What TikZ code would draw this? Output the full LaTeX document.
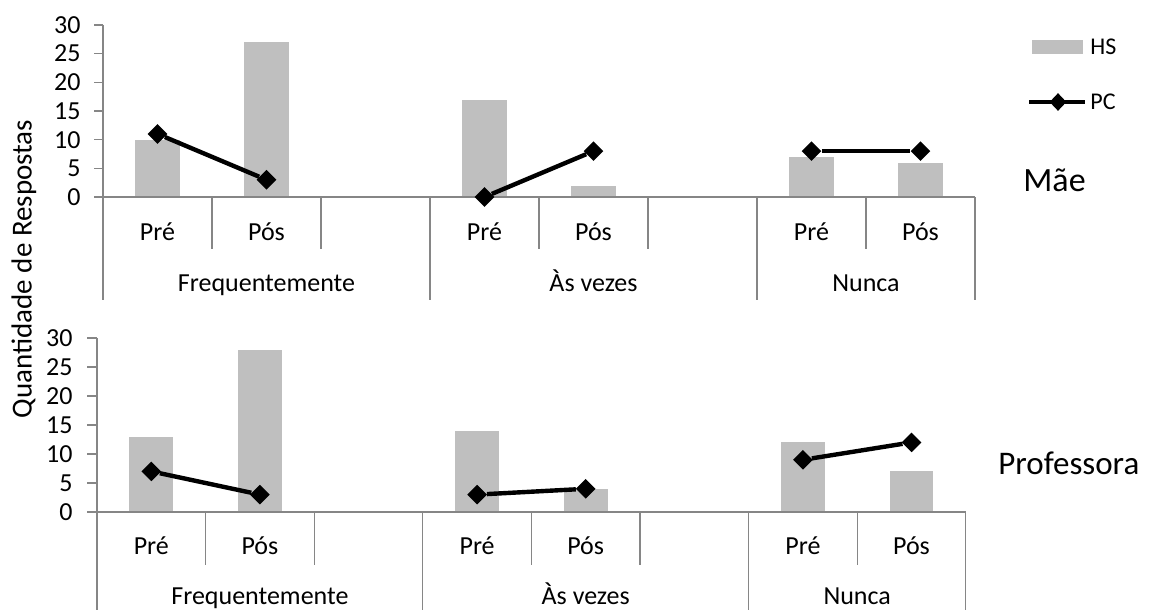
\documentclass[tikz,border=0pt]{standalone}
\usepackage{fontspec}
\setmainfont{Carlito}
\usepackage{tikz}
\usetikzlibrary{shapes.geometric}
\definecolor{axisgray}{RGB}{134,134,134}
\definecolor{barfill}{RGB}{191,191,191}

\tikzset{
  axisline/.style={draw=axisgray, line width=0.6pt},
  hsbar/.style={fill=barfill},
  pcmark/.style={diamond, fill=black, inner sep=0pt, minimum width=10pt, minimum height=10pt},
  pcline/.style={line width=2.2pt, black},
  ticklabel/.style={font=\fontsize{13}{15}\selectfont, anchor=east, inner sep=0pt},
  catlabel/.style={font=\fontsize{13}{15}\selectfont, anchor=base, inner sep=0pt},
  legendtext/.style={font=\fontsize{12}{14}\selectfont, anchor=west, inner sep=0pt},
  titletext/.style={font=\fontsize{17}{20}\selectfont, anchor=west, inner sep=0pt}
}

\begin{document}
\begin{tikzpicture}[x=0.5pt, y=-0.5pt]
\useasboundingbox (0,0) rectangle (1156,610);

% y axis title
\node[font=\fontsize{14.5}{16}\selectfont, rotate=90] (ytitle) at (24,269) {Quantidade de Respostas};

% ---- top chart (Mae)
\begin{scope}[shift={(103,197)}, x=54.5pt, y=2.867pt]
  % HS bars
  \fill[hsbar] (0.298,0) rectangle (0.702,10);
  \fill[hsbar] (1.298,0) rectangle (1.702,27);
  \fill[hsbar] (3.298,0) rectangle (3.702,17);
  \fill[hsbar] (4.298,0) rectangle (4.702,2);
  \fill[hsbar] (6.298,0) rectangle (6.702,7);
  \fill[hsbar] (7.298,0) rectangle (7.702,6);
  % axes
  \draw[axisline] (0,30) -- (0,-18);
  \draw[axisline] (0,0) -- (8,0);
  \foreach \v in {0,5,...,30}{
    \draw[axisline] (0,\v) -- ++(-4.5pt,0);
    \node[ticklabel, xshift=-11pt] (mtick\v) at (0,\v) {\v};
  }
  \foreach \c in {1,2,4,5,7}
    \draw[axisline] (\c,0) -- (\c,-9.07);
  \foreach \c in {3,6,8}
    \draw[axisline] (\c,0) -- (\c,-18);
  % category labels
  \node[catlabel] (mpre1) at (0.5,-7.5) {Pré};
  \node[catlabel] (mpos1) at (1.5,-7.5) {Pós};
  \node[catlabel] (mpre2) at (3.5,-7.5) {Pré};
  \node[catlabel] (mpos2) at (4.5,-7.5) {Pós};
  \node[catlabel] (mpre3) at (6.5,-7.5) {Pré};
  \node[catlabel] (mpos3) at (7.5,-7.5) {Pós};
  \node[catlabel] (mfreq) at (1.5,-16.4) {Frequentemente};
  \node[catlabel] (mvez) at (4.5,-16.4) {Às vezes};
  \node[catlabel] (mnun) at (7,-16.4) {Nunca};
  % PC series
  \node[pcmark] (mpc1) at (0.5,11) {};
  \node[pcmark] (mpc2) at (1.5,3) {};
  \node[pcmark] (mpc3) at (3.5,0) {};
  \node[pcmark] (mpc4) at (4.5,8) {};
  \node[pcmark] (mpc5) at (6.5,8) {};
  \node[pcmark] (mpc6) at (7.5,8) {};
  \draw[pcline] (mpc1) -- (mpc2);
  \draw[pcline] (mpc3) -- (mpc4);
  \draw[pcline] (mpc5) -- (mpc6);
\end{scope}

% ---- bottom chart (Professora)
\begin{scope}[shift={(97,512)}, x=54.3pt, y=2.9pt]
  % HS bars
  \fill[hsbar] (0.298,0) rectangle (0.702,13);
  \fill[hsbar] (1.298,0) rectangle (1.702,28);
  \fill[hsbar] (3.298,0) rectangle (3.702,14);
  \fill[hsbar] (4.298,0) rectangle (4.702,4);
  \fill[hsbar] (6.298,0) rectangle (6.702,12);
  \fill[hsbar] (7.298,0) rectangle (7.702,7);
  % axes
  \draw[axisline] (0,30) -- (0,-17);
  \draw[axisline] (0,0) -- (8,0);
  \foreach \v in {0,5,...,30}{
    \draw[axisline] (0,\v) -- ++(-5pt,0);
    \node[ticklabel, xshift=-12pt] (ptick\v) at (0,\v) {\v};
  }
  \foreach \c in {1,2,4,5,7}
    \draw[axisline] (\c,0) -- (\c,-9.14);
  \foreach \c in {3,6,8}
    \draw[axisline] (\c,0) -- (\c,-17);
  % category labels
  \node[catlabel] (ppre1) at (0.5,-7.41) {Pré};
  \node[catlabel] (ppos1) at (1.5,-7.41) {Pós};
  \node[catlabel] (ppre2) at (3.5,-7.41) {Pré};
  \node[catlabel] (ppos2) at (4.5,-7.41) {Pós};
  \node[catlabel] (ppre3) at (6.5,-7.41) {Pré};
  \node[catlabel] (ppos3) at (7.5,-7.41) {Pós};
  \node[catlabel] (pfreq) at (1.5,-15.9) {Frequentemente};
  \node[catlabel] (pvez) at (4.5,-15.9) {Às vezes};
  \node[catlabel] (pnun) at (7,-15.9) {Nunca};
  % PC series
  \node[pcmark] (ppc1) at (0.5,7) {};
  \node[pcmark] (ppc2) at (1.5,3) {};
  \node[pcmark] (ppc3) at (3.5,3) {};
  \node[pcmark] (ppc4) at (4.5,4) {};
  \node[pcmark] (ppc5) at (6.5,9) {};
  \node[pcmark] (ppc6) at (7.5,12) {};
  \draw[pcline] (ppc1) -- (ppc2);
  \draw[pcline] (ppc3) -- (ppc4);
  \draw[pcline] (ppc5) -- (ppc6);
\end{scope}

% legend
\node[fill=barfill, minimum width=25.5pt, minimum height=7pt, inner sep=0pt] (hskey) at (1057.5,47) {};
\node[legendtext] (hslabel) at (1090,47) {HS};
\coordinate (pcleft) at (1029,102);
\coordinate (pcright) at (1085,102);
\draw[line width=1.6pt] (pcleft) -- (pcright);
\node[pcmark, minimum width=8.5pt, minimum height=9pt] (pckey) at (1058,102) {};
\node[legendtext] (pclabel) at (1090,102) {PC};

% chart titles
\node[titletext] (mae) at (1023,180) {Mãe};
\node[titletext, font=\fontsize{16.5}{20}\selectfont] (prof) at (998,463) {Professora};
\end{tikzpicture}
\end{document}
